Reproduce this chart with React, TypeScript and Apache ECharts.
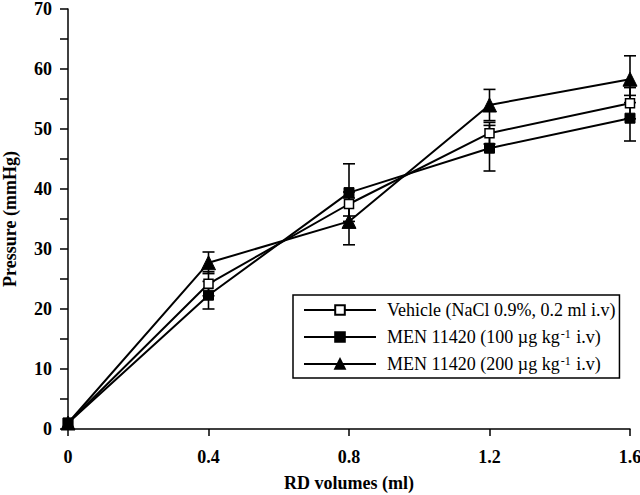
import React, { useEffect, useRef } from "react";
import * as echarts from "echarts";

const xValues = [0, 0.4, 0.8, 1.2, 1.6];
const vehicle = [1, 24.2, 37.5, 49.3, 54.3];
const vehicleErr = [0, 2.0, 2.0, 1.8, 2.6];
const men100 = [1, 22.3, 39.4, 46.8, 51.8];
const men100Err = [0, 2.3, 4.8, 3.8, 3.8];
const men200 = [1, 27.7, 34.6, 54.0, 58.3];
const men200Err = [0, 1.8, 3.9, 2.6, 3.9];
const seriesNames = [
  "Vehicle (NaCl 0.9%, 0.2 ml i.v)",
  "MEN 11420 (100 µg kg-1 i.v)",
  "MEN 11420 (200 µg kg-1 i.v)",
];
const yTicks = [0, 10, 20, 30, 40, 50, 60, 70];

const FONT = "'Liberation Serif', 'Times New Roman', serif";

function pairs(vals: number[]) {
  return xValues.map((x, i) => [x, vals[i]]);
}
function errData(vals: number[], errs: number[]) {
  return xValues
    .map((x, i) => [x, vals[i] - errs[i], vals[i] + errs[i]])
    .filter((d, i) => errs[i] > 0);
}

function errSeries(vals: number[], errs: number[]) {
  return {
    type: "custom",
    silent: true,
    z: 1,
    data: errData(vals, errs),
    renderItem: (params: any, api: any) => {
      const x = api.value(0);
      const lo = api.coord([x, api.value(1)]);
      const hi = api.coord([x, api.value(2)]);
      const w = 6;
      const style = { stroke: "#000", lineWidth: 1.6 };
      return {
        type: "group",
        children: [
          { type: "line", shape: { x1: lo[0], y1: lo[1], x2: hi[0], y2: hi[1] }, style },
          { type: "line", shape: { x1: lo[0] - w, y1: lo[1], x2: lo[0] + w, y2: lo[1] }, style },
          { type: "line", shape: { x1: hi[0] - w, y1: hi[1], x2: hi[0] + w, y2: hi[1] }, style },
        ],
      };
    },
  };
}

export default function App() {
  const ref = useRef<HTMLDivElement>(null);
  useEffect(() => {
    if (!ref.current) return;
    const chart = echarts.init(ref.current, null, { renderer: "svg" });
    const lineBase = {
      type: "line",
      z: 3,
      lineStyle: { color: "#000", width: 2 },
    };
    chart.setOption({
      animation: false,
      backgroundColor: "#fff",
      grid: { left: 68, right: 10, top: 9, bottom: 66, containLabel: false, outerBoundsMode: "none" },
      xAxis: {
        type: "value",
        min: 0,
        max: 1.6,
        interval: 0.4,
        name: "RD volumes (ml)",
        nameLocation: "middle",
        nameGap: 45,
        nameTextStyle: { fontFamily: FONT, fontWeight: "bold", fontSize: 18, color: "#000" },
        axisLine: { lineStyle: { color: "#000", width: 1.5 } },
        axisTick: { show: true, length: 7, lineStyle: { color: "#000", width: 1.5 } },
        axisLabel: {
          fontFamily: FONT,
          fontWeight: "bold",
          fontSize: 18,
          color: "#000",
          margin: 19,
          formatter: (v: number) => (v === 0 ? "0" : String(+v.toFixed(1))),
        },
        splitLine: { show: false },
      },
      yAxis: {
        type: "value",
        min: yTicks[0],
        max: yTicks[yTicks.length - 1],
        interval: 10,
        name: "Pressure (mmHg)",
        nameLocation: "middle",
        nameGap: 49,
        nameRotate: 90,
        nameTextStyle: { fontFamily: FONT, fontWeight: "bold", fontSize: 18, color: "#000" },
        axisLine: { show: true, lineStyle: { color: "#000", width: 1.5 } },
        axisTick: { show: true, length: 8, lineStyle: { color: "#000", width: 1.5 } },
        minorTick: { show: true, splitNumber: 2, length: 8, lineStyle: { color: "#000", width: 1.5 } },
        axisLabel: { fontFamily: FONT, fontWeight: "bold", fontSize: 18, color: "#000", margin: 16 },
        splitLine: { show: false },
      },
      legend: {
        orient: "vertical",
        left: 293,
        top: 295,
        padding: [6, 4, 5, 10],
        itemGap: 9,
        itemWidth: 72,
        itemHeight: 12,
        borderColor: "#000",
        borderWidth: 1.5,
        selectedMode: false,
        data: seriesNames,
        formatter: (name: string) => {
          if (name.indexOf("kg-1") >= 0) {
            const parts = name.split("kg-1");
            return `{t|${parts[0]}kg}{sup|-1}{t|${parts[1]}}`;
          }
          return `{t|${name}}`;
        },
        textStyle: {
          fontFamily: FONT,
          fontSize: 18,
          color: "#000",
          padding: [0, 0, 0, 6],
          rich: {
            t: { fontFamily: FONT, fontSize: 18, color: "#000", lineHeight: 18 },
            sup: { fontFamily: FONT, fontSize: 12, color: "#000", lineHeight: 18, verticalAlign: "top", padding: [0, 1, 0, 1] },
          },
        },
      },
      series: [
        errSeries(vehicle, vehicleErr),
        errSeries(men100, men100Err),
        errSeries(men200, men200Err),
        {
          ...lineBase,
          name: seriesNames[0],
          data: pairs(vehicle),
          symbol: "rect",
          symbolSize: 9,
          itemStyle: { color: "#fff", borderColor: "#000", borderWidth: 1.5 },
        },
        {
          ...lineBase,
          name: seriesNames[1],
          data: pairs(men100),
          symbol: "rect",
          symbolSize: 10,
          itemStyle: { color: "#000", borderColor: "#000", borderWidth: 1 },
        },
        {
          ...lineBase,
          name: seriesNames[2],
          data: pairs(men200),
          symbol: "triangle",
          symbolSize: 14,
          itemStyle: { color: "#000", borderColor: "#000", borderWidth: 1 },
        },
      ],
    });
    return () => chart.dispose();
  }, []);
  return <div ref={ref} style={{ width: 640, height: 495, position: "absolute", left: 0, top: 0 }} />;
}
